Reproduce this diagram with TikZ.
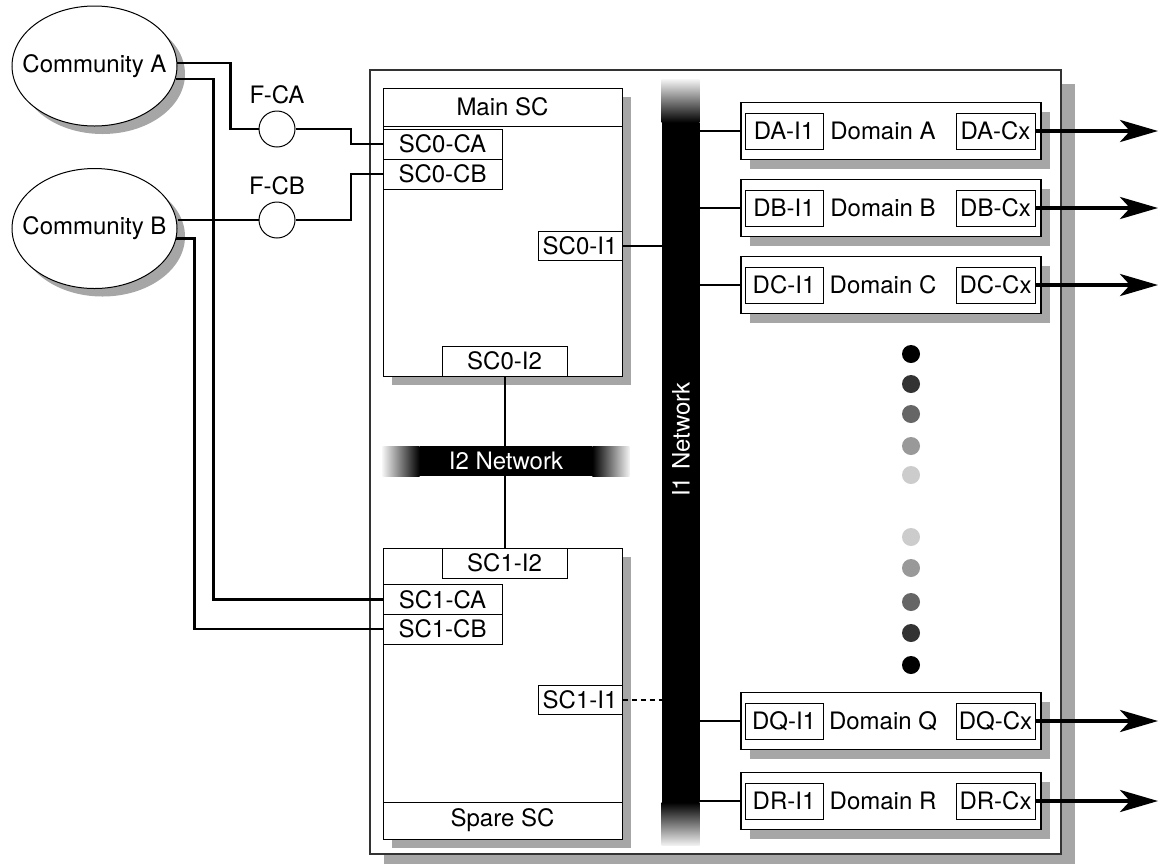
\documentclass[tikz,border=0pt]{standalone}
\usepackage{fontspec}
\setmainfont{TeX Gyre Heros}
\usetikzlibrary{shapes.geometric, arrows.meta, positioning, shadows}

\begin{document}
\begin{tikzpicture}[
    x=0.5pt, y=-0.5pt,
    font=\fontsize{12}{14}\selectfont,
    shadowed/.style={drop shadow={shadow xshift=4.5pt, shadow yshift=-4.5pt, fill=black!35, opacity=1}},
    frame/.style={rectangle, draw=black!80, line width=0.6pt, fill=white, inner sep=0pt},
    scbox/.style={rectangle, draw, line width=0.5pt, fill=white, minimum width=119.5pt, inner sep=0pt, shadowed},
    sctitle/.style={rectangle, draw, line width=0.5pt, fill=white, minimum width=119.5pt, inner sep=0pt},
    port/.style={rectangle, draw, line width=0.5pt, fill=white, inner sep=0pt, minimum height=15pt},
    community/.style={ellipse, draw, line width=0.5pt, fill=white, minimum width=82.5pt, minimum height=60pt, inner sep=0pt, drop shadow={shadow xshift=4pt, shadow yshift=-4pt, fill=black!35, opacity=1}},
    filter/.style={circle, draw, line width=0.5pt, fill=white, minimum size=18pt, inner sep=0pt},
    dombox/.style={rectangle, draw, line width=0.6pt, fill=white, minimum width=150pt, minimum height=28.5pt, inner sep=0pt, shadowed},
    network/.style={rectangle, fill=black, text=white, inner sep=0pt},
    link/.style={line width=1.3pt},
    netlink/.style={line width=1pt},
    outarrow/.style={-{Stealth[length=19pt, width=11pt, inset=5pt]}, line width=2pt}
]
\useasboundingbox (0,0) rectangle (1165,863);

% chassis
\node[frame, minimum width=345.5pt, minimum height=392pt,
      drop shadow={shadow xshift=7pt, shadow yshift=-7pt, fill=black!35, opacity=1}] (chassis) at (715.5,462) {};

% system controllers
\node[scbox, minimum height=144pt] (mainsc) at (502.5,232) {};
\node[sctitle, minimum height=19pt] (mainsctitle) at (502.5,107) {Main SC};
\node[port, minimum width=59.5pt] (sc0ca) at (442.5,144) {SC0-CA};
\node[port, minimum width=59.5pt] (sc0cb) at (442.5,174) {SC0-CB};
\node[port, minimum width=42pt, minimum height=14.5pt] (sc0i1) at (580,245.5) {SC0-I1};
\node[port, minimum width=62.5pt] (sc0i2) at (504.5,361) {SC0-I2};

\node[scbox, minimum height=145.5pt] (sparesc) at (502.5,693.5) {};
\node[sctitle, minimum height=18.5pt] (sparesctitle) at (502.5,820.5) {Spare SC};
\node[port, minimum width=62.5pt] (sc1i2) at (504.5,563) {SC1-I2};
\node[port, minimum width=59.5pt] (sc1ca) at (442.5,599.5) {SC1-CA};
\node[port, minimum width=59.5pt] (sc1cb) at (442.5,629) {SC1-CB};
\node[port, minimum width=42pt, minimum height=14.5pt] (sc1i1) at (580,699.5) {SC1-I1};

% I2 network
\draw[netlink] (sc0i2) -- (sc1i2);
\node[network, minimum width=86pt, minimum height=15pt] (i2net) at (506,461) {I2 Network};
\shade[left color=black!5, right color=black] (i2net.south west) rectangle ++(-37,-30);
\shade[left color=black, right color=black!5] (i2net.south east) rectangle ++(37,-30);

% I1 network
\node[network, minimum width=19pt, minimum height=339.5pt] (i1net) at (681,462.5) {\rotatebox{90}{\hspace*{23pt}I1 Network}};
\shade[top color=black!5, bottom color=black] (i1net.north west) rectangle ++(38,-43);
\shade[top color=black, bottom color=black!5] (i1net.south west) rectangle ++(38,43);

\draw[netlink] (sc0i1) -- (sc0i1.east -| i1net.west);
\draw[netlink, dash pattern=on 2.5pt off 2pt] (sc1i1) -- (sc1i1.east -| i1net.west);

% domains
\foreach \d/\y in {A/131, B/208, C/285, Q/721, R/801} {
    \node[dombox] (d\d) at (891,\y) {Domain \d\hspace*{8pt}};
    \node[port, minimum width=39pt, minimum height=18pt] (d\d-i1) at (784,\y) {D\d-I1};
    \node[port, minimum width=39.5pt, minimum height=18pt] (d\d-cx) at (995.5,\y) {D\d-Cx};
    \coordinate (out\d) at (1158,\y);
    \draw[netlink] (i1net.east |- d\d) -- (d\d);
    \draw[outarrow] (d\d-cx) -- (out\d);
}

% more domains
\foreach \y/\g in {354/100, 384/80, 414/60, 446/40, 475/20, 537/20, 568/40, 602/60, 633/80, 665/100}
    \fill[black!\g] (911,\y) circle[radius=9];

% communities and filters
\node[community] (comA) at (94.5,66) {\makebox[0pt]{Community A}};
\node[community] (comB) at (94.5,228.5) {\makebox[0pt]{Community B}};
\node[filter] (fca) at (277,129) {};
\node[above=0pt of fca] (fcalbl) {F-CA};
\node[filter] (fcb) at (277,220) {};
\node[above=0pt of fcb] (fcblbl) {F-CB};

\draw[link] (comA.2) -- ++(53,0) |- (fca);
\draw[link] (fca) -- ++(74,0) |- (sc0ca);
\draw[link] (comA.-9) -- ++(38,0) |- (sc1ca);
\draw[link] (comB.east |- fcb) -- (fcb);
\draw[link] (fcb) -- ++(74,0) |- (sc0cb);
\draw[link] (comB.-7.5) -- ++(18,0) |- (sc1cb);

\end{tikzpicture}
\end{document}
